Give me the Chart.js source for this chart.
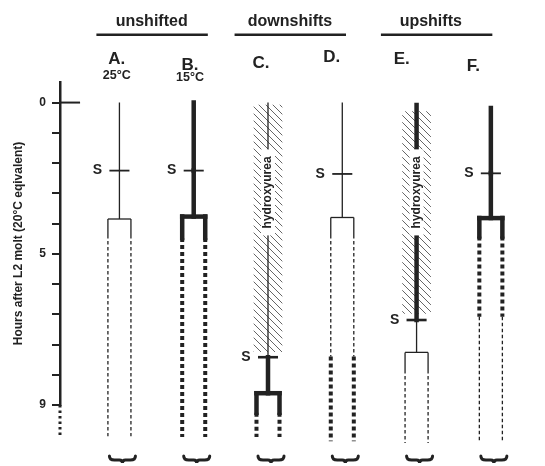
<!DOCTYPE html>
<html>
<head>
<meta charset="utf-8">
<script src="https://cdn.jsdelivr.net/npm/chart.js@4.4.0/dist/chart.umd.min.js"></script>
<style>
  html, body { margin: 0; padding: 0; background: #fff; }
  #wrap { width: 545px; height: 466px; }
</style>
</head>
<body>
<div id="wrap"><canvas id="chart" width="545" height="466"></canvas></div>
<script>
// Columns of the diagram
const columnLabels = ['A.', 'B.', 'C.', 'D.', 'E.', 'F.'];
const columnTemps = ['25°C', '15°C', '', '', '', ''];
const groupNames = ['unshifted', 'downshifts', 'upshifts'];

// Y axis ticks, one per step; only some carry a label
const tickValues = [0, 1, 2, 3, 4, 5, 6, 7, 8, 9, 10];
const tickLabels = ['0', '', '', '', '', '5', '', '', '', '', '9'];

// Timeline values (axis steps after the L2 molt)
const trunkStart = [0, 0, 0, 0, 0.08, 0.18];
const sTime = [2.25, 2.25, 8.42, 2.36, 7.19, 2.34];
const forkTime = [3.85, 3.77, 9.61, 3.8, 8.26, 3.82];
const beforeS = ['thin', 'thick', 'thin', 'thin', 'thick', 'thick'];
const afterS = ['thin', 'thick', 'thick', 'thin', 'thin', 'thick'];

// Branches after the fork: [end, style]
const branchA = [[4.38, 'thin'], [11.03, 'dashed']];
const branchB = [[4.48, 'thick'], [11.06, 'dotted']];
const branchC = [[10.26, 'thick'], [11.06, 'dotted']];
const branchD = [[4.38, 'thin'], [8.4, 'dashed'], [11.2, 'dotted']];
const branchE = [[8.84, 'thin'], [11.26, 'dashed']];
const branchF = [[4.43, 'thick'], [7.08, 'dotted'], [11.25, 'dashed']];
const branches = [branchA, branchB, branchC, branchD, branchE, branchF];

// Hydroxyurea exposure (hatched band)
const hydroxyurea = [null, null, [0.08, 8.24], null, [0.3, 6.97], null];

// Dotted continuation of the time axis
const axisExtension = [10, 11.0];

const INK = '#222';
const FONT = '"Liberation Sans", Arial, sans-serif';
const X_MIN = -0.8;
const BR = 0.155;   // half distance between the two branches
const ST = 0.135;   // half length of the S tick

Chart.defaults.font.family = FONT;

const styles = {
  thin: { borderWidth: 1.3, borderDash: [] },
  thick: { borderWidth: 4.5, borderDash: [], borderCapStyle: 'square' },
  dashed: { borderWidth: 1.3, borderDash: [3.5, 2.5] },
  dotted: { borderWidth: 4, borderDash: [4, 3] },
};

function seg(x1, y1, x2, y2, style, extra) {
  return Object.assign({
    type: 'line',
    data: [{ x: x1, y: y1 }, { x: x2, y: y2 }],
    borderColor: INK,
    pointRadius: 0,
    tension: 0,
    fill: false,
    clip: false,
    borderCapStyle: 'butt',
    order: 0,
  }, styles[style] || {}, extra || {});
}

function hatchPattern() {
  const s = 7;
  const c = document.createElement('canvas');
  c.width = s;
  c.height = s;
  const g = c.getContext('2d');
  g.strokeStyle = '#666';
  g.lineWidth = 1;
  g.beginPath();
  g.moveTo(0, 0); g.lineTo(s, s);
  g.moveTo(-1, s - 1); g.lineTo(1, s + 1);
  g.moveTo(s - 1, -1); g.lineTo(s + 1, 1);
  g.stroke();
  return g.createPattern(c, 'repeat');
}

const datasets = [];

// hatched hydroxyurea bands as floating bars
datasets.push({
  type: 'bar',
  data: hydroxyurea.map((r, i) => (r ? { x: i, y: r } : null)).filter(Boolean),
  backgroundColor: hatchPattern(),
  borderWidth: 0,
  barThickness: 28,
  order: 10,
});

columnLabels.forEach((_, i) => {
  datasets.push(seg(i, trunkStart[i], i, sTime[i], beforeS[i]));
  datasets.push(seg(i, sTime[i], i, forkTime[i], afterS[i]));
  datasets.push(seg(i - BR, forkTime[i], i + BR, forkTime[i], afterS[i]));
  [-BR, BR].forEach(dx => {
    let from = forkTime[i];
    branches[i].forEach(([end, st]) => {
      datasets.push(seg(i + dx, from, i + dx, end, st));
      from = end;
    });
  });
  const tickW = (afterS[i] === 'thick' && beforeS[i] === 'thin') || (beforeS[i] === 'thick' && afterS[i] === 'thin') ? 2.6 : 1.8;
  datasets.push(seg(i - ST, sTime[i], i + ST, sTime[i], 'thin', { borderWidth: tickW }));
});

// axis decorations: long zero tick and dotted axis continuation
datasets.push(seg(X_MIN, 0, -0.53, 0, 'thin', { borderWidth: 2 }));
datasets.push(seg(X_MIN, axisExtension[0], X_MIN, axisExtension[1], 'dotted', { borderWidth: 3, borderDash: [2.5, 3] }));

const diagramText = {
  id: 'diagramText',
  afterDatasetsDraw(chart) {
    const { ctx, scales: { x, y } } = chart;
    ctx.save();
    ctx.textAlign = 'center';
    ctx.textBaseline = 'middle';

    // hydroxyurea labels on a white box
    hydroxyurea.forEach((range, i) => {
      if (!range) return;
      const cx = x.getPixelForValue(i);
      const cy = y.getPixelForValue(2.97);
      ctx.font = 'bold 12px ' + FONT;
      const w = ctx.measureText('hydroxyurea').width;
      ctx.fillStyle = '#fff';
      ctx.fillRect(cx - 7, cy - w / 2 - 7, 14, w + 14);
      ctx.save();
      ctx.translate(cx, cy);
      ctx.rotate(-Math.PI / 2);
      ctx.fillStyle = INK;
      ctx.fillText('hydroxyurea', 0, 0);
      ctx.restore();
    });

    // S labels
    ctx.fillStyle = INK;
    ctx.font = 'bold 14px ' + FONT;
    sTime.forEach((t, i) => {
      ctx.fillText('S', x.getPixelForValue(i) - 22, y.getPixelForValue(t));
    });

    // braces under each column
    ctx.strokeStyle = INK;
    ctx.lineWidth = 3;
    ctx.lineCap = 'round';
    columnLabels.forEach((_, i) => {
      const cx = x.getPixelForValue(i) + 3;
      const cy = y.getPixelForValue(11.82);
      ctx.beginPath();
      ctx.moveTo(cx - 13, cy - 4);
      ctx.quadraticCurveTo(cx - 13, cy, cx - 8, cy);
      ctx.lineTo(cx - 3, cy);
      ctx.quadraticCurveTo(cx, cy, cx, cy + 3);
      ctx.quadraticCurveTo(cx, cy, cx + 3, cy);
      ctx.lineTo(cx + 8, cy);
      ctx.quadraticCurveTo(cx + 13, cy, cx + 13, cy - 4);
      ctx.stroke();
    });
    ctx.lineCap = 'butt';

    // group headers with rules
    const groupLine = [[-0.31, 1.19], [1.55, 3.05], [3.52, 5.02]];
    const groupTextX = [0.434, 2.296, 4.191];
    ctx.font = 'bold 16px ' + FONT;
    groupNames.forEach((g, k) => {
      ctx.fillText(g, x.getPixelForValue(groupTextX[k]), y.getPixelForValue(-2.68));
      ctx.lineWidth = 2.5;
      ctx.beginPath();
      const ly = y.getPixelForValue(-2.24);
      ctx.moveTo(x.getPixelForValue(groupLine[k][0]), ly);
      ctx.lineTo(x.getPixelForValue(groupLine[k][1]), ly);
      ctx.stroke();
    });

    // column letters and temperatures
    const letterDx = [-0.036, -0.05, -0.094, -0.143, -0.2, -0.237];
    const letterY = [-1.43, -1.24, -1.3, -1.5, -1.43, -1.21];
    const tempY = [-0.88, -0.84];
    columnLabels.forEach((l, i) => {
      ctx.font = 'bold 17px ' + FONT;
      ctx.fillText(l, x.getPixelForValue(i + letterDx[i]), y.getPixelForValue(letterY[i]));
      if (columnTemps[i]) {
        ctx.font = 'bold 12.5px ' + FONT;
        ctx.fillText(columnTemps[i], x.getPixelForValue(i + letterDx[i]), y.getPixelForValue(tempY[i]));
      }
    });
    ctx.restore();
  }
};

new Chart(document.getElementById('chart'), {
  type: 'line',
  data: { datasets },
  plugins: [diagramText],
  options: {
    responsive: false,
    animation: false,
    devicePixelRatio: 1,
    layout: { padding: { left: 0, right: 17, top: 82, bottom: 61 } },
    plugins: { legend: { display: false }, tooltip: { enabled: false } },
    scales: {
      x: { type: 'linear', display: false, offset: false, min: X_MIN, max: 5.5 },
      y: {
        type: 'linear',
        reverse: true,
        min: -0.68,
        max: 10,
        afterBuildTicks: (s) => { s.ticks = tickValues.map(v => ({ value: v })); },
        afterFit: (s) => { s.width = 60; },
        ticks: {
          autoSkip: false,
          padding: 6,
          color: INK,
          font: { size: 12, weight: 'bold' },
          callback: (v, idx) => tickLabels[idx],
        },
        grid: { drawOnChartArea: false, drawTicks: true, tickLength: 8, lineWidth: 2, color: INK },
        border: { display: true, width: 2.5, color: INK },
        title: {
          display: true,
          text: 'Hours after L2 molt (20°C eqivalent)',
          color: INK,
          font: { size: 12, weight: 'bold' },
          padding: { top: 11 },
        },
      },
    },
  },
});
</script>
</body>
</html>
